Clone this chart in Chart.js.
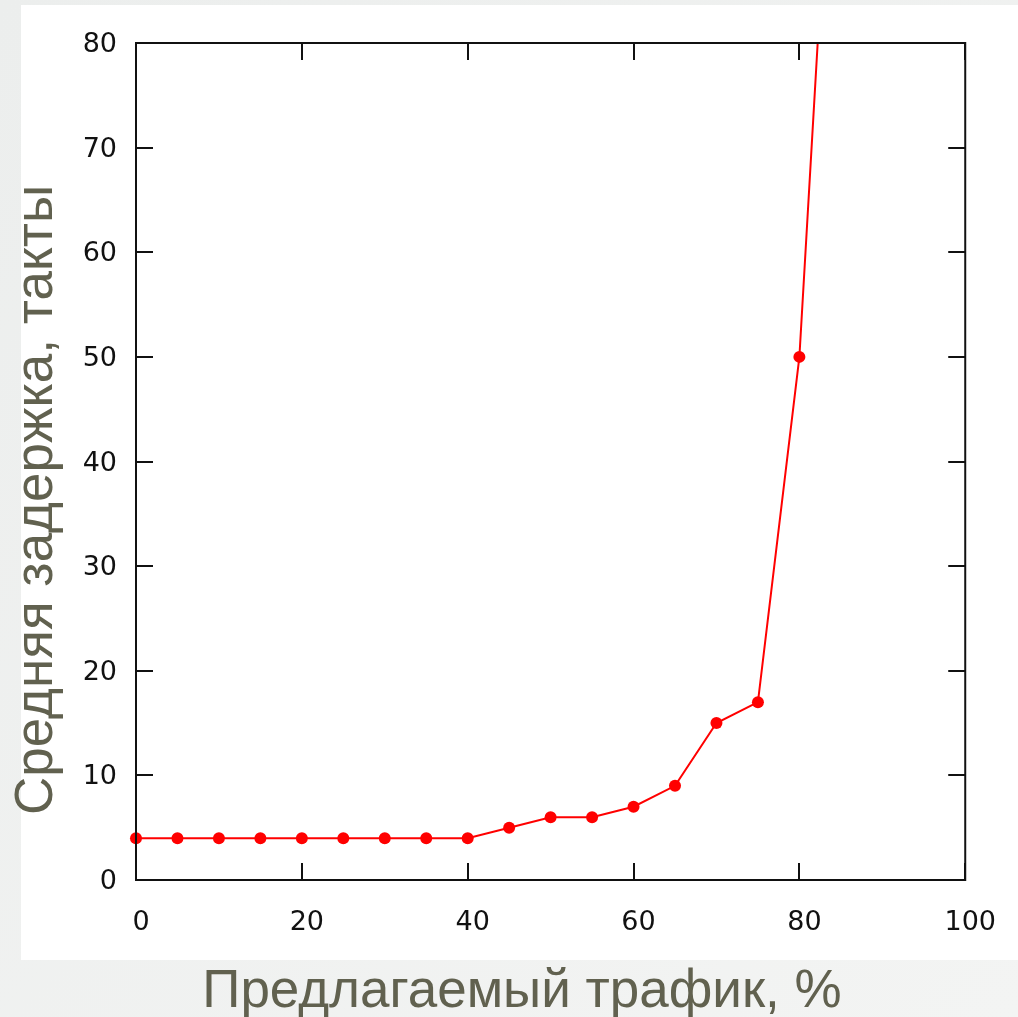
<!DOCTYPE html>
<html>
<head>
<meta charset="utf-8">
<script src="https://cdn.jsdelivr.net/npm/chart.js@4"></script>
<style>
  html, body { margin: 0; padding: 0; background: #eef0ef; }
  canvas { display: block; }
</style>
</head>
<body>
<canvas id="chart" width="1018" height="1017"></canvas>
<script>
// offered traffic, % and mean delay, cycles
const traffic = [0, 5, 10, 15, 20, 25, 30, 35, 40, 45, 50, 55, 60, 65, 70, 75, 80, 85];
const delay = [4, 4, 4, 4, 4, 4, 4, 4, 4, 5, 6, 6, 7, 9, 15, 17, 50, 118];

const xTitle = "Предлагаемый трафик, %";
const yTitle = "Средняя задержка, такты";

const titleColor = "#61614f";

// slide background + white picture area
const backdrop = {
  id: "backdrop",
  beforeDraw: (chart) => {
    const ctx = chart.ctx;
    ctx.save();
    const g = ctx.createLinearGradient(0, 0, chart.width, chart.height);
    g.addColorStop(0, "#eceeed");
    g.addColorStop(1, "#f3f4f3");
    ctx.fillStyle = g;
    ctx.fillRect(0, 0, chart.width, chart.height);
    ctx.fillStyle = "#ffffff";
    ctx.fillRect(21, 5, chart.width - 21, 955);
    ctx.restore();
  },
};

// gnuplot-like frame with inward ticks on all four sides, plus axis titles
const frame = {
  id: "frame",
  afterDatasetsDraw: (chart) => {
    const ctx = chart.ctx;
    const { left, right, top, bottom } = chart.chartArea;
    const xs = chart.scales.x;
    const ys = chart.scales.y;
    const len = 17;

    ctx.save();
    ctx.strokeStyle = "#111";
    ctx.lineWidth = 2;
    ctx.strokeRect(left, top, right - left, bottom - top);

    ctx.beginPath();
    xs.ticks.forEach((t) => {
      const px = Math.round(xs.getPixelForValue(t.value));
      ctx.moveTo(px, bottom);
      ctx.lineTo(px, bottom - len);
      ctx.moveTo(px, top);
      ctx.lineTo(px, top + len);
    });
    ys.ticks.forEach((t) => {
      const py = Math.round(ys.getPixelForValue(t.value));
      ctx.moveTo(left, py);
      ctx.lineTo(left + len, py);
      ctx.moveTo(right, py);
      ctx.lineTo(right - len, py);
    });
    ctx.stroke();
    ctx.restore();
  },
  afterDraw: (chart) => {
    const ctx = chart.ctx;
    ctx.save();
    ctx.fillStyle = titleColor;
    ctx.font = "53px 'Liberation Sans', Arial, sans-serif";
    ctx.textAlign = "center";
    ctx.textBaseline = "alphabetic";
    ctx.fillText(xTitle, 522, 1007);

    ctx.translate(52, 500);
    ctx.rotate(-Math.PI / 2);
    ctx.fillText(yTitle, 0, 0);
    ctx.restore();
  },
};

const tickFont = { family: "'DejaVu Sans', sans-serif", size: 27 };

new Chart(document.getElementById("chart"), {
  type: "line",
  data: {
    datasets: [
      {
        data: traffic.map((t, i) => ({ x: t, y: delay[i] })),
        borderColor: "#ff0000",
        backgroundColor: "#ff0000",
        borderWidth: 2,
        pointRadius: 6,
        pointBorderWidth: 0,
        pointBackgroundColor: "#ff0000",
        tension: 0,
        clip: { left: 10, top: 0, right: 0, bottom: 10 },
      },
    ],
  },
  options: {
    responsive: false,
    devicePixelRatio: 1,
    animation: false,
    layout: { padding: { left: 0, top: 43, right: 51, bottom: 0 } },
    plugins: {
      legend: { display: false },
      tooltip: { enabled: false },
    },
    scales: {
      x: {
        type: "linear",
        min: 0,
        max: 100,
        grid: { display: false, drawTicks: false },
        border: { display: false },
        ticks: {
          stepSize: 20,
          font: tickFont,
          color: "#111",
          padding: 27,
          labelOffset: 5,
          maxRotation: 0,
        },
        afterFit: (scale) => {
          scale.height = 137;
        },
      },
      y: {
        min: 0,
        max: 80,
        grid: { display: false, drawTicks: false },
        border: { display: false },
        ticks: {
          stepSize: 10,
          font: tickFont,
          color: "#111",
          padding: 19,
          labelOffset: 2,
        },
        afterFit: (scale) => {
          scale.width = 136;
        },
      },
    },
  },
  plugins: [backdrop, frame],
});
</script>
</body>
</html>
